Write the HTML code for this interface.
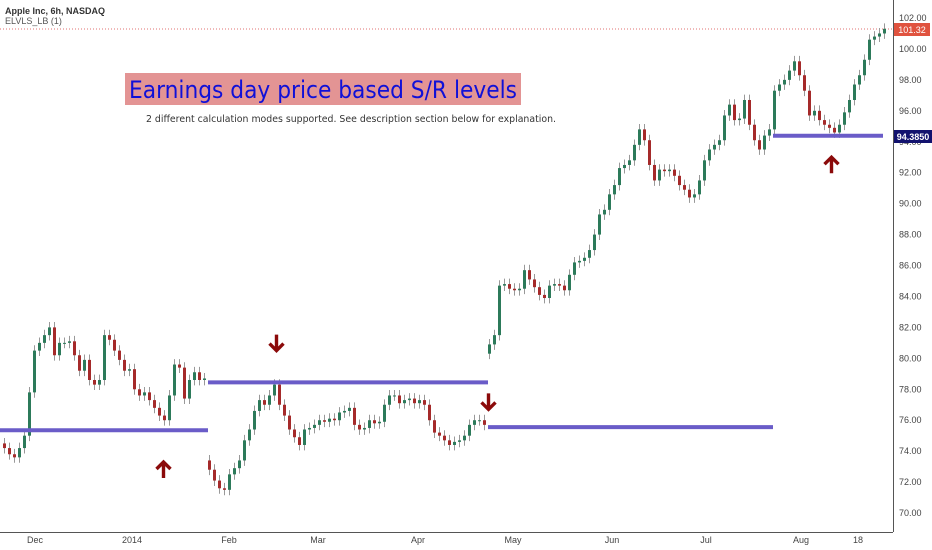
<!DOCTYPE html>
<html><head><meta charset="utf-8"><style>
body{margin:0;background:#fff;font-family:"Liberation Sans",sans-serif}
#wrap{position:relative;width:932px;height:550px;overflow:hidden}
</style></head><body>
<div id="wrap">
<svg id="svg" width="932" height="550">
<line x1="0" y1="29" x2="893" y2="29" stroke="#e07070" stroke-width="1" stroke-dasharray="1,2"/>
<g id="candles"></g>
<g id="levels"></g>
<g id="arrows"></g>
<line x1="893.5" y1="0" x2="893.5" y2="532" stroke="#555"/>
<line x1="0" y1="532.5" x2="893" y2="532.5" stroke="#555"/>
<g id="yticks" font-size="9" fill="#444"></g>
<g id="xticks" font-size="9" fill="#444"></g>
<rect x="894" y="23" width="36" height="13" fill="#e0533f"/>
<text x="912" y="33" font-size="9" fill="#fff" text-anchor="middle">101.32</text>
<rect x="894" y="130" width="38" height="13" fill="#12126e"/>
<text x="913" y="140" font-size="9" fill="#fff" font-weight="bold" text-anchor="middle">94.3850</text>
<text x="5" y="14" font-size="9" fill="#333" font-weight="bold">Apple Inc, 6h, NASDAQ</text>
<text x="5" y="24" font-size="9" fill="#555">ELVLS_LB (1)</text>
<rect x="125" y="73" width="396" height="32" fill="#e39494"/>
<text x="129" y="98" font-size="24" fill="#1010d8" font-family="DejaVu Sans, sans-serif" textLength="388" lengthAdjust="spacingAndGlyphs">Earnings day price based S/R levels</text>
<text x="146" y="122" font-size="9.5" fill="#333" font-family="DejaVu Sans, sans-serif" textLength="410" lengthAdjust="spacingAndGlyphs">2 different calculation modes supported. See description section below for explanation.</text>
</svg>
</div>
<script>
const closes=[74.2,73.8,73.6,74.2,75,77.8,80.5,81,81.5,82,80.2,81,81,81.1,80.2,79.2,79.9,78.6,78.3,78.6,
81.5,81.2,80.5,79.9,79.2,79.3,78,77.6,77.8,77.3,76.8,76.3,76,77.6,79.6,79.4,77.4,78.6,79.1,78.6,78.7,
72.8,72.1,71.6,71.5,72.5,72.9,73.4,74.7,75.4,76.6,77.3,77,77.6,78.3,77,76.3,75.4,74.9,74.4,75.4,75.5,75.7,76,75.9,76.1,76,76.5,76.6,76.8,75.7,75.4,75.5,76,75.8,75.9,77,77.6,77.6,77.1,77.3,77.4,77.1,77.3,77,76,75.2,75,74.7,74.4,74.6,74.7,75,75.7,76,76,75.7,
80.9,81.5,84.7,84.8,84.5,84.4,84.5,85.7,85.1,84.6,84.1,83.9,84.7,84.8,84.7,84.4,85.4,86.2,86.3,86.5,87,88,89.3,89.6,90.6,91.2,92.3,92.5,92.8,93.8,94.8,94.1,92.5,91.5,92.2,92.1,92.2,91.8,91.2,90.9,90.4,90.6,91.5,92.8,93.5,93.8,94.1,95.7,96.4,95.4,95.5,96.7,95.1,94.1,93.5,94.4,94.8,
97.3,97.7,98,98.6,99.2,98.3,97.3,95.7,96,95.4,95.1,94.9,94.6,95.1,95.9,96.7,97.7,98.3,99.3,100.6,100.8,101,101.3];
const yTicks=[102,100,98,96,94,92,90,88,86,84,82,80,78,76,74,72,70];
const xTickLabels=["Dec","2014","Feb","Mar","Apr","May","Jun","Jul","Aug","18"];
const xTickIdx=[6.4,25.8,45.2,63,83,102,121.8,140.6,159.6,171];
const levelPrices=[75.35,78.45,75.55,94.385];
const levelStart=[-1,41,97,154];
const levelEnd=[41,97,154,176];
const arrowIdx=[31.8,54.4,96.8,165.4];
const arrowPrice=[73.3,80.5,76.7,93];
const arrowDir=["up","down","down","up"];
const NS="http://www.w3.org/2000/svg";
const Y=p=>18+(102-p)*15.47;
const X=i=>3+i*5;
function mk(t,a,parent){const e=document.createElementNS(NS,t);for(const k in a)e.setAttribute(k,a[k]);parent.appendChild(e);return e;}
const cg=document.getElementById('candles');
closes.forEach((c,i)=>{
  let o=i?closes[i-1]:c+0.3;
  if(Math.abs(c-o)>4)o=c+(c>o?-0.6:0.6);
  const up=c>=o;
  const hi=Math.max(o,c)+0.35,lo=Math.min(o,c)-0.35;
  const col=up?"#2c7a5a":"#a52a2a";
  const w=mk('line',{x1:X(i)+1.5,x2:X(i)+1.5,y1:Y(hi),y2:Y(lo),stroke:"#999","stroke-width":1},cg);
  
  
  const r=mk('rect',{x:X(i),y:Y(Math.max(o,c)),width:3,height:Math.max(1,Math.abs(Y(o)-Y(c))),fill:col},cg);
  
  
});
const lg=document.getElementById('levels');
levelPrices.forEach((p,k)=>{
  const l=mk('line',{x1:X(levelStart[k]),x2:X(levelEnd[k]),y1:Y(p),y2:Y(p),stroke:"#6a5cc8","stroke-width":4},lg);
  
  
});
const ag=document.getElementById('arrows');
arrowIdx.forEach((ix,k)=>{
  const x=X(ix)+1.5,y=Y(arrowPrice[k]);
  const d=arrowDir[k]==="up"?`M${x} ${y+16}V${y}M${x-7} ${y+7}L${x} ${y}L${x+7} ${y+7}`:`M${x} ${y-16}V${y}M${x-7} ${y-7}L${x} ${y}L${x+7} ${y-7}`;
  const a=mk('path',{d:d,stroke:"#8b0a0a","stroke-width":3.4,fill:"none"},ag);
  
  
});
const yg=document.getElementById('yticks');
yTicks.forEach(v=>{
  const t=mk('text',{x:899,y:Y(v)+3},yg);t.textContent=v.toFixed(2);
  
  
});
const xg=document.getElementById('xticks');
xTickLabels.forEach((s,k)=>{
  const t=mk('text',{x:X(xTickIdx[k]),y:543,"text-anchor":"middle"},xg);t.textContent=s;
  
  
});
</script>
</body></html>
